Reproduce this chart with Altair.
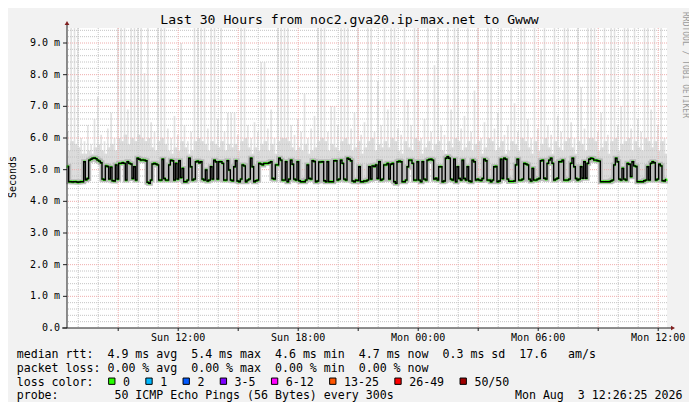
import altair as alt
import numpy as np
import pandas as pd

# 5-minute median rtt (ms) from left to right
median_ms = [
    5.10, 4.62, 4.62, 4.61, 4.62, 4.62, 4.60, 4.61, 4.62, 4.62,
    5.25, 4.68, 4.72, 5.30, 5.33, 5.36, 5.37, 5.35, 5.30, 5.27,
    5.22, 4.70, 4.68, 5.12, 5.10, 4.70, 5.08, 4.65, 4.64, 5.15,
    4.70, 5.20, 5.20, 5.22, 5.20, 4.67, 5.25, 5.20, 5.18, 4.72,
    5.09, 4.67, 5.36, 5.33, 5.30, 5.31, 5.30, 5.28, 4.60, 4.57,
    4.67, 5.18, 5.20, 5.18, 5.15, 4.67, 4.67, 5.33, 4.72,
    4.67, 4.67, 5.15, 5.30, 5.28, 4.67, 5.20, 4.70, 5.28, 4.75,
    5.04, 4.62, 4.62, 4.67, 5.36, 5.09, 4.67, 4.70, 5.25, 5.27,
    5.22, 5.25, 4.70, 4.67, 4.99, 4.64, 4.67, 5.09, 4.70, 5.30,
    5.25, 4.70, 5.25, 5.25, 5.20, 4.67, 4.67, 5.28, 4.99, 4.67,
    4.65, 5.09, 5.28, 4.64, 4.62, 4.70, 5.15, 5.12, 4.62, 4.67,
    4.70, 5.36, 5.09, 4.62, 4.65, 4.67, 5.20, 5.18, 5.15, 5.20,
    5.20, 5.20, 5.22, 5.25, 4.72, 4.70, 5.15, 5.15, 5.36, 5.30,
    4.67, 4.67, 5.25, 4.62, 4.70, 5.30, 5.17, 4.70, 4.67, 5.25,
    4.65, 4.62, 4.62, 4.62, 4.67, 5.15, 4.72, 4.70, 5.28, 5.26,
    4.62, 4.64, 5.24, 5.24, 5.25, 4.65, 4.62, 5.25, 4.62, 4.62,
    4.62, 5.28, 5.28, 4.67, 4.70, 5.30, 5.20, 4.70, 4.67, 5.36,
    5.33, 5.28, 4.64, 4.62, 4.67, 4.66, 5.09, 4.62, 4.62, 4.64,
    4.64, 4.67, 5.09, 4.70, 5.12, 5.10, 5.15, 4.72, 5.25, 4.67,
    4.70, 5.15, 5.15, 5.20, 4.70, 5.17, 5.20, 4.62, 4.57, 5.25,
    5.27, 5.25, 4.62, 4.62, 4.67, 5.09, 5.30, 5.30, 5.20, 4.67,
    4.67, 5.25, 4.67, 4.62, 5.25, 4.70, 4.67, 5.30, 5.32, 5.33,
    5.30, 4.70, 4.73, 4.67, 5.09, 5.09, 4.62, 4.64, 5.36, 5.41,
    5.36, 4.70, 4.67, 5.33, 4.62, 5.09, 4.72, 4.67, 5.30, 4.72,
    4.67, 5.09, 4.64, 4.62, 5.30, 5.25, 4.67, 4.70, 4.67, 4.66,
    4.72, 5.33, 5.28, 4.67, 4.67, 4.62, 4.67, 5.09, 5.10, 4.62,
    4.64, 5.33, 4.72, 5.36, 5.33, 4.70, 4.63, 4.63, 4.63, 4.64,
    5.15, 5.33, 4.67, 4.67, 4.70, 5.20, 5.18, 5.15, 4.70, 4.64,
    5.04, 4.67, 4.67, 4.70, 4.72, 5.28, 5.30, 4.73, 4.70, 5.20,
    5.30, 5.36, 5.20, 4.67, 4.70, 4.73, 5.25, 5.25, 5.30, 4.67,
    4.67, 4.67, 4.70, 5.20, 5.36, 5.09, 4.72, 4.67, 4.70, 5.09,
    4.73, 5.25, 4.73, 5.20, 5.33, 5.36, 5.35, 5.30, 5.30, 5.28,
    5.27, 4.62, 4.62, 4.62, 4.62, 4.62, 4.62, 4.64, 4.67, 5.15,
    5.36, 5.25, 4.70, 4.67, 5.04, 4.70, 4.67, 5.20, 5.17, 4.78,
    5.25, 5.12, 5.10, 4.62, 4.62, 4.62, 4.62, 4.65, 4.67, 5.09,
    4.67, 5.20, 5.25, 5.22, 4.67, 4.70, 5.17, 5.12, 4.65, 4.64,
    4.68,
]

# smoke read in 10-minute buckets (ms): upper edge of the denser band
smoke_mid_ms = [
    5.6, 5.9, 5.8, 5.7, 5.5, 5.5, 5.6, 5.5, 5.7, 5.8,
    5.6, 5.5, 5.7, 5.8, 5.6, 6.0, 5.9, 6.1, 5.8, 6.0,
    5.9, 6.1, 6.0, 5.9, 6.0, 5.7, 5.6, 5.9, 6.0, 5.8,
    5.6, 5.5, 5.7, 5.6, 5.9, 5.7, 5.5, 5.6, 5.9, 6.0,
    5.9, 5.8, 5.6, 5.9, 5.8, 5.7, 5.9, 5.6, 5.8, 5.7,
    5.8, 5.6, 5.9, 6.0, 5.7, 5.5, 5.7, 5.6, 5.8, 5.9,
    5.6, 5.8, 5.5, 5.9, 6.0, 6.0, 5.9, 5.7, 5.6, 5.7,
    5.6, 5.8, 5.5, 5.6, 5.7, 5.9, 6.0, 5.9, 5.6, 5.8,
    5.7, 5.6, 5.9, 6.0, 5.8, 5.6, 5.7, 5.9, 5.5, 5.7,
    5.9, 6.0, 5.6, 5.8, 5.7, 5.9, 5.7, 6.0, 5.9, 5.6,
    5.5, 5.9, 5.7, 5.6, 6.0, 5.9, 5.5, 5.7, 5.9, 5.6,
    5.8, 5.9, 5.6, 5.5, 5.9, 5.7, 6.0, 5.9, 5.6, 5.7,
    5.9, 5.6, 5.8, 5.9, 5.5, 5.7, 6.0, 5.9, 5.6, 5.7,
    5.9, 5.5, 5.6, 5.9, 5.8, 5.6, 6.0, 5.9, 5.7, 5.5,
    5.9, 5.6, 5.8, 6.0, 5.7, 5.5, 5.9, 5.7, 5.6, 5.9,
    6.0, 5.7, 5.5, 5.9, 5.8, 5.6, 6.0, 6.0, 5.9, 5.6,
    5.7, 5.9, 5.5, 5.9, 6.0, 5.6, 5.8, 5.9, 6.0, 5.6,
    5.9, 5.7, 5.6, 6.0, 5.9, 5.7, 5.9, 5.6, 5.9, 5.5,
]

# smoke read in 10-minute buckets (ms): highest ping streak, 9.5 = off the top
smoke_top_ms = [
    6.2, 9.5, 9.5, 9.5, 6.0, 5.9, 6.4, 5.8, 6.6, 7.3,
    6.1, 5.9, 6.3, 6.8, 6.0, 9.5, 9.5, 9.5, 6.9, 9.5,
    9.5, 9.5, 9.5, 8.05, 9.5, 6.5, 6.2, 9.5, 9.5, 9.5,
    6.3, 6.0, 6.7, 6.1, 9.0, 6.4, 5.9, 6.2, 9.5, 9.5,
    9.5, 9.5, 6.3, 9.5, 9.5, 6.6, 9.5, 6.2, 6.8, 6.8,
    6.8, 6.1, 9.5, 9.5, 6.4, 6.0, 6.5, 6.2, 8.4, 8.4,
    6.3, 6.9, 6.0, 9.5, 9.5, 9.5, 9.5, 6.4, 6.1, 6.6,
    6.2, 7.4, 6.0, 6.3, 6.7, 9.5, 9.5, 9.5, 6.2, 7.0,
    7.0, 6.4, 9.5, 9.5, 9.5, 6.3, 6.8, 9.5, 6.1, 6.5,
    9.5, 9.5, 6.2, 7.8, 6.4, 9.5, 6.9, 9.5, 9.5, 6.3,
    6.1, 9.5, 7.2, 6.4, 9.5, 9.5, 6.0, 6.6, 9.5, 6.2,
    8.3, 9.5, 6.4, 6.1, 9.5, 6.9, 9.5, 9.5, 6.3, 6.7,
    9.5, 6.2, 7.5, 9.5, 6.0, 6.5, 9.5, 9.5, 6.3, 6.8,
    9.5, 6.1, 6.4, 9.5, 7.1, 6.2, 9.5, 9.5, 6.6, 6.0,
    9.5, 6.3, 8.8, 9.5, 6.4, 6.1, 9.5, 6.7, 6.2, 9.5,
    9.5, 6.5, 6.0, 9.5, 7.6, 6.3, 9.5, 9.5, 9.5, 6.2,
    6.8, 9.5, 6.1, 9.5, 9.5, 6.4, 7.0, 9.5, 9.5, 6.3,
    9.5, 6.6, 6.2, 9.5, 9.5, 6.9, 9.5, 6.4, 9.5, 6.0,
]

loss_labels = ["0", "1", "2", "3-5", "6-12", "13-25", "26-49", "50/50"]
loss_colors = ["#26ff00", "#00b8ff", "#0059ff", "#7e00ff",
               "#ff00ff", "#ff5500", "#ff0000", "#a10000"]

# axis ticks: hours since Sun 00:00, and ms
x_tick_hours = [12, 18, 24, 30, 36]
x_tick_labels = ["Sun 12:00", "Sun 18:00", "Mon 00:00", "Mon 06:00", "Mon 12:00"]
y_tick_values = [0, 1, 2, 3, 4, 5, 6, 7, 8, 9]
y_tick_labels = ["0.0  ", "1.0 m", "2.0 m", "3.0 m", "4.0 m",
                 "5.0 m", "6.0 m", "7.0 m", "8.0 m", "9.0 m"]

title = "Last 30 Hours from noc2.gva20.ip-max.net to Gwww"
legend_rows = [
    "median rtt:  4.9 ms avg  5.4 ms max  4.6 ms min  4.7 ms now  0.3 ms sd  17.6   am/s",
    "packet loss: 0.00 % avg  0.00 % max  0.00 % min  0.00 % now",
    "loss color:",
    "probe:        50 ICMP Echo Pings (56 Bytes) every 300s",
]
stamp = "Mon Aug  3 12:26:25 2026"

MONO = "DejaVu Sans Mono"
NBSP = "\u00a0"
W, H = 600, 300
END_H = 36 + 26 / 60 + 25 / 3600
YMAX = 9.474

n = len(median_ms)
t0 = END_H - 30 + np.arange(n) / 12
df = pd.DataFrame({
    "t0": t0,
    "t1": t0 + 1 / 12,
    "tm": t0 + 1 / 24,
    "med": median_ms,
    # each 10-minute bucket: thin high streak, then the denser band
    "top": np.column_stack([smoke_top_ms, smoke_mid_ms]).ravel(),
    "mid": np.repeat(smoke_mid_ms, 2),
})

xs = alt.Scale(domain=[END_H - 30, END_H], nice=False, zero=False)
ys = alt.Scale(domain=[0, YMAX], nice=False)


def X(field):
    return alt.X(field, scale=xs, axis=None)


def Y(field):
    return alt.Y(field, scale=ys, axis=None)


base = alt.Chart(df)

smoke_top = base.mark_rect(color="#e2e2e2", clip=True).encode(
    x=X("t0:Q"), x2="t1", y=Y("med:Q"), y2="top"
)
smoke_mid = base.mark_rect(color="#dadada", clip=True).encode(
    x=X("t0:Q"), x2="t1", y=Y("med:Q"), y2="mid"
)


def grid(values, channel, color):
    enc = Y("v:Q") if channel == "y" else X("v:Q")
    return alt.Chart(pd.DataFrame({"v": values})).mark_rule(
        color=color, strokeDash=[1, 1], strokeWidth=1
    ).encode(**{channel: enc})


minor_y = [round(v * 0.2, 1) for v in range(1, 48) if v % 5]
major_y = y_tick_values[1:]
minor_x = [h for h in range(7, 37) if h % 3]
major_x = list(range(9, 37, 3))

halo = base.mark_line(color="#bababa", strokeWidth=5, interpolate="step").encode(
    x=X("tm:Q"), y=Y("med:Q")
)
green = base.mark_square(color=loss_colors[0], size=6, opacity=1).encode(
    x=X("tm:Q"), y=Y("med:Q")
)
median_line = base.mark_line(color="#000000", strokeWidth=1.4, interpolate="step").encode(
    x=X("tm:Q"), y=Y("med:Q")
)

# axes drawn by hand through the same scales
AXIS = "#1f1f1f"
ytick_df = pd.DataFrame({"v": y_tick_values, "lab": [s.replace(" ", NBSP) for s in y_tick_labels]})
y_ticks = alt.Chart(ytick_df).mark_rule(color=AXIS).encode(
    x=alt.value(-4), x2=alt.value(0), y=Y("v:Q")
)
y_labels = alt.Chart(ytick_df).mark_text(
    align="right", baseline="middle", font=MONO, fontSize=10, color="black"
).encode(x=alt.value(-7), y=Y("v:Q"), text="lab:N")

x_ticks = alt.Chart(pd.DataFrame({"v": major_x})).mark_rule(color=AXIS).encode(
    x=X("v:Q"), y=alt.value(H), y2=alt.value(H + 3)
)
xlab_df = pd.DataFrame({"h": x_tick_hours, "lab": [s.replace(" ", NBSP) for s in x_tick_labels]})
x_labels = alt.Chart(xlab_df).mark_text(
    align="center", baseline="top", font=MONO, fontSize=10, color="black"
).encode(x=X("h:Q"), y=alt.value(H + 5), text="lab:N")

one = pd.DataFrame({"a": [0]})
y_axis_line = alt.Chart(one).mark_rule(color=AXIS).encode(
    x=alt.value(0), y=alt.value(-4), y2=alt.value(H)
)
x_axis_line = alt.Chart(one).mark_rule(color=AXIS).encode(
    x=alt.value(-5), x2=alt.value(605), y=alt.value(H)
)
arrow_up = alt.Chart(one).mark_point(shape="triangle-up", filled=True, size=22,
                                     color="#801f1f", opacity=1).encode(
    x=alt.value(0), y=alt.value(-5)
)
arrow_right = alt.Chart(one).mark_point(shape="triangle-right", filled=True, size=22,
                                        color="#801f1f", opacity=1).encode(
    x=alt.value(606), y=alt.value(H)
)


def text(s, x, y, size=11.6, align="left", angle=0, color="black", baseline="alphabetic"):
    return alt.Chart(pd.DataFrame({"t": [s.replace(" ", NBSP)]})).mark_text(
        align=align, baseline=baseline, font=MONO, fontSize=size, angle=angle, color=color
    ).encode(x=alt.value(x), y=alt.value(y), text="t:N")


texts = [
    text(title, 282.5, -4, size=13.1, align="center"),
    text("Seconds", -54, 149, size=10, align="center", angle=270, baseline="middle"),
    text("RRDTOOL / TOBI OETIKER", 617.5, 37, size=8, align="center", angle=90,
         color="#9a9a9a", baseline="middle"),
    text(stamp, 615.5, 371.3, align="right"),
]
for row, yb in zip(legend_rows, [329.7, 343.7, 357.5, 371.3]):
    texts.append(text(row, -50.3, yb))

# legend boxes for loss colours, laid out like rrdtool's legend
pos = 108.3
loss_layers = []
for lab, col in zip(loss_labels, loss_colors):
    loss_layers.append(
        alt.Chart(one).mark_square(size=40, fill=col, stroke="black", strokeWidth=1,
                                   opacity=1).encode(x=alt.value(pos + 3.5 - 67), y=alt.value(353.2))
    )
    loss_layers.append(text(lab, pos + 14.7 - 67, 357.5))
    pos += 30.2 + 7 * len(lab)

chart = alt.layer(
    smoke_top, smoke_mid,
    grid(minor_y, "y", "#c4c4c4"), grid(minor_x, "x", "#c4c4c4"),
    grid(major_y, "y", "#efacac"), grid(major_x, "x", "#efacac"),
    halo, green, median_line,
    y_ticks, y_labels, x_ticks, x_labels,
    y_axis_line, x_axis_line, arrow_up, arrow_right,
    *loss_layers, *texts,
).properties(
    width=W, height=H,
    autosize=alt.AutoSizeParams(type="none"),
    padding={"left": 59, "top": 20, "right": 22, "bottom": 74},
    background="#f2f2f2",
).configure_view(fill="white", strokeWidth=0)

chart.save("out.html", embed_options={"renderer": "svg", "actions": False})
